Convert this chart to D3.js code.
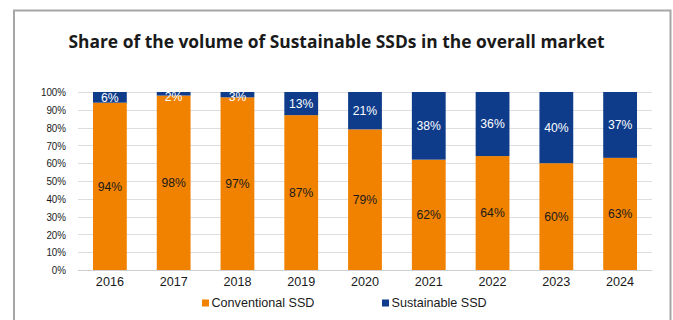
<!DOCTYPE html>
<html>
<head>
<meta charset="utf-8">
<script src="https://cdn.jsdelivr.net/npm/d3@7"></script>
<style>
  html, body { margin: 0; padding: 0; background: #fff; }
  svg { display: block; }
</style>
</head>
<body>
<svg id="chart" width="673" height="320"></svg>
<script>
// Market share by year (percent)
const years = ["2016", "2017", "2018", "2019", "2020", "2021", "2022", "2023", "2024"];
const conventional = [94, 98, 97, 87, 79, 62, 64, 60, 63];
const sustainable = [6, 2, 3, 13, 21, 38, 36, 40, 37];
const yTicks = [0, 10, 20, 30, 40, 50, 60, 70, 80, 90, 100];
const seriesNames = ["Conventional SSD", "Sustainable SSD"];
const colors = { "Conventional SSD": "#f08200", "Sustainable SSD": "#0e3c8b" };

const svg = d3.select("#chart");
const font = "'Liberation Sans', Arial, sans-serif";

// outer frame
svg.append("path")
  .attr("d", "M14,330 L14,10.5 L670.5,10.5 L670.5,330")
  .attr("fill", "none")
  .attr("stroke", "#a6a6a6")
  .attr("stroke-width", 2);

// title
svg.append("text")
  .attr("x", 336.5).attr("y", 48)
  .attr("text-anchor", "middle")
  .attr("font-family", "'Open Sans', sans-serif")
  .attr("font-weight", "700")
  .attr("font-size", 17.4)
  .attr("fill", "#1a1a1a")
  .text("Share of the volume of Sustainable SSDs in the overall market");

const plot = { left: 78, right: 652, top: 92, bottom: 270 };

const x = d3.scaleBand().domain(years).range([plot.left, plot.right]).paddingInner(0.47).paddingOuter(0.235);
const y = d3.scaleLinear().domain([0, 100]).range([plot.bottom, plot.top]);

// gridlines
svg.append("g")
  .selectAll("line")
  .data(yTicks)
  .join("line")
  .attr("x1", plot.left).attr("x2", plot.right)
  .attr("y1", d => Math.round(y(d)) + 0.5).attr("y2", d => Math.round(y(d)) + 0.5)
  .attr("stroke", d => d === 0 ? "#cfcfcf" : "#dedede")
  .attr("stroke-width", 1.2);

// y axis labels (slightly condensed)
const yAxis = d3.axisLeft(y).tickValues(yTicks).tickSize(0).tickPadding(0).tickFormat(d => d + "%");
svg.append("g")
  .attr("transform", `translate(${plot.left},0)`)
  .call(yAxis)
  .call(g => g.select(".domain").remove())
  .selectAll("text")
  .attr("x", 0)
  .attr("transform", "translate(-12,0) scale(0.86,1)")
  .attr("font-family", font).attr("font-size", 11.4).attr("fill", "#1a1a1a");

// x axis labels
const xAxis = d3.axisBottom(x).tickSize(0).tickPadding(7);
svg.append("g")
  .attr("transform", `translate(0,${plot.bottom})`)
  .call(xAxis)
  .call(g => g.select(".domain").remove())
  .selectAll("text")
  .attr("font-family", font).attr("font-size", 12.6).attr("fill", "#1a1a1a");

// stacked bars
const rows = years.map((yr, i) => ({ year: yr, "Conventional SSD": conventional[i], "Sustainable SSD": sustainable[i] }));
const stack = d3.stack().keys(seriesNames)(rows);

const layers = svg.append("g").selectAll("g")
  .data(stack)
  .join("g")
  .attr("fill", d => colors[d.key]);

layers.selectAll("rect")
  .data(d => d)
  .join("rect")
  .attr("x", d => x(d.data.year))
  .attr("width", x.bandwidth())
  .attr("y", d => y(d[1]))
  .attr("height", d => y(d[0]) - y(d[1]));

// value labels
layers.each(function(layer) {
  const isSust = layer.key === "Sustainable SSD";
  d3.select(this).selectAll("text")
    .data(layer)
    .join("text")
    .attr("x", d => x(d.data.year) + x.bandwidth() / 2)
    .attr("y", d => Math.max((y(d[0]) + y(d[1])) / 2, plot.top + 5))
    .attr("dy", "0.35em")
    .attr("text-anchor", "middle")
    .attr("font-family", font)
    .attr("font-size", 12.2)
    .attr("fill", isSust ? "#ffffff" : "#1a1a1a")
    .text(d => (d[1] - d[0]) + "%");
});

// legend
const legendItems = [
  { name: seriesNames[0], x: 202 },
  { name: seriesNames[1], x: 382 }
];
const legend = svg.append("g").selectAll("g")
  .data(legendItems)
  .join("g")
  .attr("transform", d => `translate(${d.x},303)`);
legend.append("rect")
  .attr("x", 0).attr("y", -3.5).attr("width", 7).attr("height", 7)
  .attr("fill", d => colors[d.name]);
legend.append("text")
  .attr("x", 9.5).attr("y", 0).attr("dy", "0.35em")
  .attr("font-family", font).attr("font-size", 12.6).attr("fill", "#1a1a1a")
  .text(d => d.name);
</script>
</body>
</html>
